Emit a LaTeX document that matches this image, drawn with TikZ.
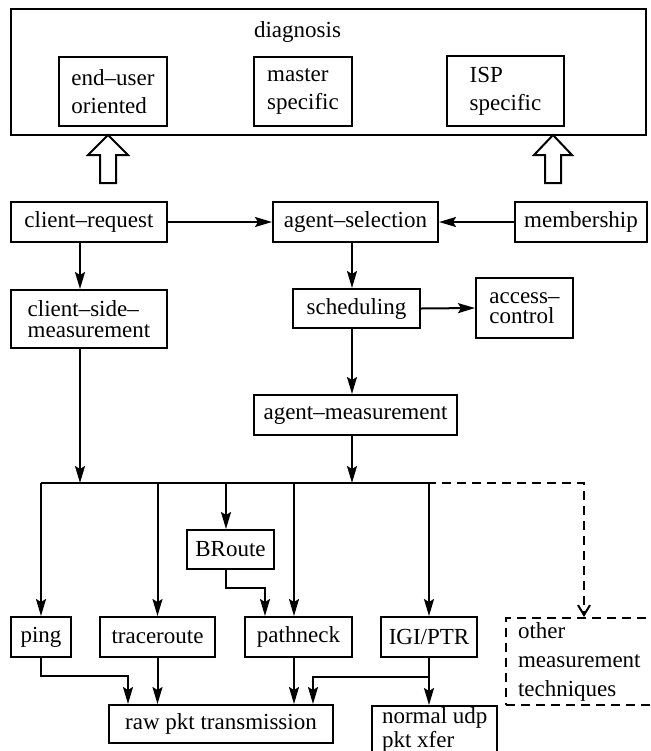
\documentclass[tikz,border=0pt]{standalone}
\usepackage{fontspec}
\setmainfont{Liberation Serif}
\usetikzlibrary{arrows.meta}

\begin{document}
\begin{tikzpicture}[x=0.5pt,y=-0.5pt,line width=1pt,
  font=\fontsize{11.5}{14}\selectfont,
  box/.style={draw,inner sep=0pt,align=center},
  tightlines/.style={font=\fontsize{11.5}{10.2}\selectfont},
  flow/.style={-{Stealth[length=8.5pt,width=5pt,inset=1.5pt]}},
  dashflow/.style={dash pattern=on 4.5pt off 3pt,-{Straight Barb[length=5pt,width=6pt]}}]

\clip (0,0) rectangle (651,751);

%% diagnosis block
\node[box, minimum width=317.5pt, minimum height=63pt] (diag) at (328.5,72) {};
\node (diagtxt) at (297.5,32) {diagnosis};
\node[box, align=left, minimum width=54pt, minimum height=34.5pt] (enduser) at (113,91.5) {end--user\\oriented};
\node[box, align=left, minimum width=49pt, minimum height=34.5pt] (master) at (303,91.5) {master\\specific};
\node[box, align=left, minimum width=58.5pt, minimum height=35pt] (isp) at (505.5,91) {ISP\\specific};

%% hollow arrows into diagnosis
\draw[fill=white] (100,183) -- (100,155) -- (88,155) -- (108,135) -- (128,155) -- (116,155) -- (116,183) -- cycle;
\draw[fill=white] (545,183) -- (545,155) -- (534,155) -- (553,135) -- (572,155) -- (561,155) -- (561,183) -- cycle;

%% upper boxes
\node[box, minimum width=78pt, minimum height=20pt] (creq) at (89,222) {client--request};
\node[box, minimum width=82.5pt, minimum height=20pt] (asel) at (355.5,222) {agent--selection};
\node[box, minimum width=66pt, minimum height=20pt] (memb) at (581,222) {membership};
\node[box, tightlines, align=left, minimum width=78pt, minimum height=29pt] (cside) at (89,319) {client--side--\\measurement};
\node[box, minimum width=63.5pt, minimum height=19.5pt] (sched) at (356.5,308.5) {scheduling};
\node[box, tightlines, align=left, minimum width=48.5pt, minimum height=30pt] (acc) at (524.5,308) {access--\\control};
\node[box, minimum width=101.5pt, minimum height=20pt] (ameas) at (355.5,415) {agent--measurement};

%% measurement tools
\node[box, minimum width=43.5pt, minimum height=19.5pt] (broute) at (230.5,549.5) {BRoute};
\node[box, minimum width=30pt, minimum height=20pt] (ping) at (41,637) {ping};
\node[box, minimum width=57.5pt, minimum height=20pt] (trace) at (157.5,637) {traceroute};
\node[box, minimum width=53.5pt, minimum height=20pt] (pathn) at (298.5,637) {pathneck};
\node[box, minimum width=48pt, minimum height=20pt] (igi) at (429,637) {IGI/PTR};
\node[draw, dash pattern=on 4.5pt off 3pt, anchor=north west, align=left, text width=80pt,
  inner xsep=6pt, inner ysep=0pt, minimum height=43.5pt, font=\fontsize{11.5}{14.5}\selectfont]
  (other) at (505,617) {other\\measurement\\techniques};
\node[box, minimum width=112pt, minimum height=19pt] (raw) at (221,724) {raw pkt transmission};
\node[draw, anchor=north west, align=left, inner xsep=5pt, inner ysep=1pt, text depth=12pt,
  tightlines] (udp) at (371,705) {normal udp\\pkt xfer};

%% columns and bus
\coordinate (cL) at (80,0);
\coordinate (cM) at (352,0);
\coordinate (cBR) at (226,0);
\coordinate (cPN) at (294,0);
\coordinate (bus) at (0,483);
\coordinate (busL) at (41,483);
\coordinate (busE) at (427,483);
\coordinate (busD) at (584,483);
\coordinate (brA) at (265,588);
\coordinate (pgA) at (128,676);
\coordinate (igA) at (313,677);

%% edges
\draw[flow] (creq.east) -- (asel.west);
\draw[flow] (memb.west) -- (asel.east);
\draw[flow] (creq.south -| cL) -- (cside.north -| cL);
\draw[flow] (asel.south -| cM) -- (sched.north -| cM);
\draw[flow] (sched.east) -- (acc.west);
\draw[flow] (sched.south -| cM) -- (ameas.north -| cM);
\draw[flow] (cside.south -| cL) -- (bus -| cL);
\draw[flow] (ameas.south -| cM) -- (bus -| cM);
\draw (busL) -- (busE);
\draw[dashflow] (busE) -- (busD) -- (other.north -| busD);
\draw[flow] (busL) -- (ping.north);
\draw[flow] (bus -| trace.north) -- (trace.north);
\draw[flow] (bus -| cBR) -- (broute.north -| cBR);
\draw[flow] (bus -| cPN) -- (pathn.north -| cPN);
\draw[flow] (bus -| igi.north) -- (igi.north);
\draw[flow] (broute.south -| cBR) |- (brA) -- (pathn.north -| brA);
\draw[flow] (ping.south) |- (pgA) -- (raw.north -| pgA);
\draw[flow] (trace.south) -- (raw.north -| trace.south);
\draw[flow] (pathn.south -| cPN) -- (raw.north -| cPN);
\draw[flow] (igi.south) -- (udp.north -| igi.south);
\draw[flow] (igi.south |- igA) -- (igA) -- (raw.north -| igA);
\end{tikzpicture}
\end{document}
